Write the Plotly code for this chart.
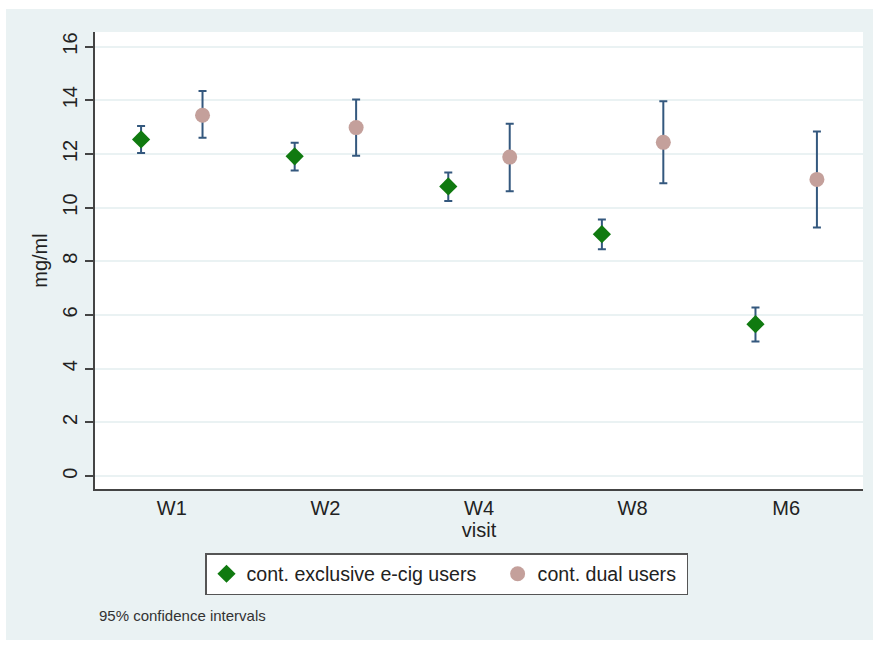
import plotly.graph_objects as go

# Visits and group means with 95% confidence limits (mg/ml)
visits = ["W1", "W2", "W4", "W8", "M6"]

excl_mean = [12.54, 11.91, 10.79, 9.01, 5.66]
excl_lo = [12.03, 11.38, 10.25, 8.45, 5.01]
excl_hi = [13.04, 12.42, 11.31, 9.56, 6.28]

dual_mean = [13.44, 12.98, 11.88, 12.43, 11.05]
dual_lo = [12.60, 11.93, 10.61, 10.91, 9.26]
dual_hi = [14.34, 14.03, 13.12, 13.96, 12.83]

y_ticks = [0, 2, 4, 6, 8, 10, 12, 14, 16]

FONT = "Liberation Sans, Arial, Helvetica, sans-serif"
BG = "#eaf2f3"
NAVY = "#34587e"
GREEN = "#107a10"
DUST = "#c4a09b"
OFFSET = 0.2
NBSP = "\u00a0"

pos = list(range(1, len(visits) + 1))


def err(mean, lo, hi):
    return dict(
        type="data",
        symmetric=False,
        array=[h - m for h, m in zip(hi, mean)],
        arrayminus=[m - l for m, l in zip(mean, lo)],
        color=NAVY,
        thickness=2,
        width=4,
    )


fig = go.Figure()
fig.add_trace(go.Scatter(
    x=[p - OFFSET for p in pos], y=excl_mean, mode="markers",
    name="cont. exclusive e-cig users" + NBSP * 3,
    marker=dict(symbol="diamond", size=14, color=GREEN),
    error_y=err(excl_mean, excl_lo, excl_hi),
))
fig.add_trace(go.Scatter(
    x=[p + OFFSET for p in pos], y=dual_mean, mode="markers",
    name="cont. dual users" + NBSP,
    marker=dict(symbol="circle", size=15, color=DUST),
    error_y=err(dual_mean, dual_lo, dual_hi),
))

W, H = 880, 645
L, R, T, B = 95, 17, 32, 156
pw, ph = W - L - R, H - T - B


def px_x(v):
    return (v - L) / pw


def px_y(v):
    return (H - B - v) / ph


fig.update_layout(
    width=W, height=H,
    margin=dict(l=L, r=R, t=T, b=B),
    paper_bgcolor="white",
    plot_bgcolor="rgba(0,0,0,0)",
    font=dict(family=FONT, size=20, color="#222"),
    showlegend=True,
    legend=dict(
        orientation="h",
        x=px_x(205), xanchor="left",
        y=px_y(553), yanchor="top",
        bgcolor="white",
        bordercolor="#555",
        borderwidth=1.5,
        font=dict(size=19.6, color="#222"),
        tracegroupgap=0,
    ),
    shapes=[
        # outer graph region
        dict(type="rect", xref="paper", yref="paper", layer="below",
             x0=px_x(6), x1=px_x(873), y0=px_y(640), y1=px_y(9),
             fillcolor=BG, line=dict(width=0)),
        # plot region
        dict(type="rect", xref="paper", yref="paper", layer="below",
             x0=0, x1=1, y0=0, y1=1,
             fillcolor="white", line=dict(width=0)),
    ],
    annotations=[
        dict(text="95% confidence intervals", xref="paper", yref="paper",
             x=px_x(97), y=px_y(615), xanchor="left", yanchor="middle",
             showarrow=False, font=dict(size=15, color="#333")),
    ],
)

fig.update_xaxes(
    range=[0.5, 5.5],
    tickmode="array", tickvals=pos, ticktext=visits,
    showgrid=False, zeroline=False,
    showline=True, linecolor="#444", linewidth=1.5,
    ticks="", ticklabelstandoff=0,
    title=dict(text="visit", font=dict(size=20), standoff=2),
)
fig.update_yaxes(
    range=[-0.48, 16.54],
    tickmode="array", tickvals=y_ticks,
    tickangle=-90,
    showgrid=True, gridcolor=BG, gridwidth=1.5,
    zeroline=False,
    showline=True, linecolor="#444", linewidth=1.5,
    ticks="outside", ticklen=8, tickcolor="#444", tickwidth=1.5,
    title=dict(text="mg/ml", font=dict(size=20), standoff=6),
)

fig.write_html("out.html")
